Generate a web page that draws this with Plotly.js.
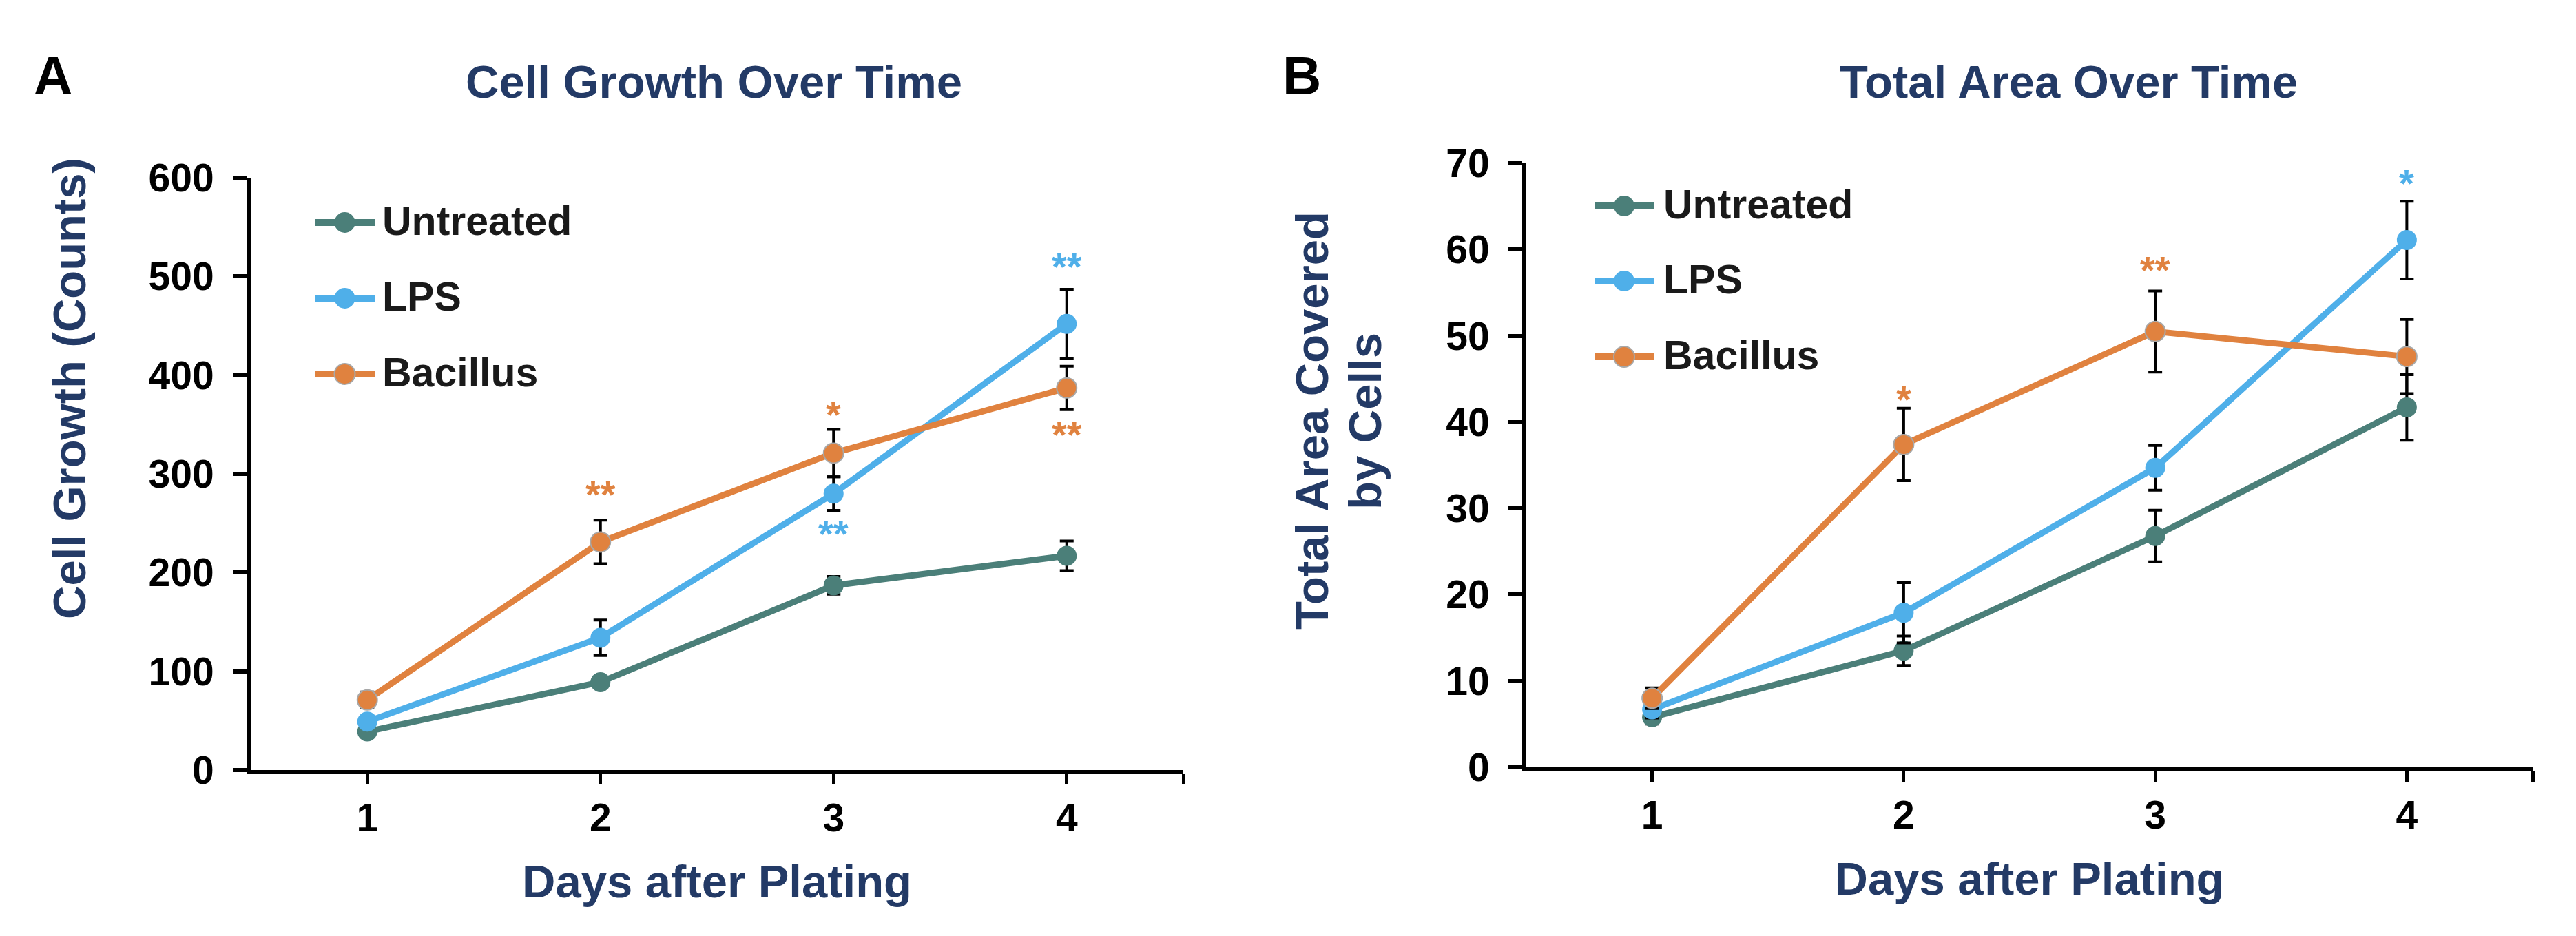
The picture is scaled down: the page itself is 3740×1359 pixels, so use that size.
<!DOCTYPE html>
<html><head><meta charset="utf-8">
<script src="https://cdn.plot.ly/plotly-3.0.1.min.js"></script>
<style>html,body{margin:0;padding:0;background:#fff;} #chart{width:3740px;height:1359px;}</style>
</head><body><div id="chart"></div>
<script>
// ---------- data ----------
const days = [1, 2, 3, 4];
const seriesNames = ['Untreated', 'LPS', 'Bacillus'];

const growthUntreated = [39, 89, 187, 217];
const growthUntreatedErr = [4, 5, 9, 15];
const growthLPS = [49, 134, 280, 452];
const growthLPSErr = [5, 18, 17, 35];
const growthBacillus = [71, 231, 321, 387];
const growthBacillusErr = [8, 22, 24, 22];

const areaUntreated = [5.8, 13.5, 26.8, 41.7];
const areaUntreatedErr = [0.8, 1.7, 3.0, 3.8];
const areaLPS = [6.7, 17.9, 34.7, 61.1];
const areaLPSErr = [1.0, 3.5, 2.6, 4.5];
const areaBacillus = [8.0, 37.4, 50.5, 47.6];
const areaBacillusErr = [1.2, 4.2, 4.7, 4.3];

const starsA_x = [2, 3, 3, 4, 4];
const starsA_y = [285, 366, 245, 516, 346];
const starsA_text = ['**', '*', '**', '**', '**'];
const starsA_series = ['Bacillus', 'Bacillus', 'LPS', 'LPS', 'Bacillus'];

const starsB_x = [2, 3, 4];
const starsB_y = [43.3, 58.3, 68.4];
const starsB_text = ['*', '**', '*'];
const starsB_series = ['Bacillus', 'Bacillus', 'LPS'];

const xTickVals = [1, 2, 3, 4, 4.5];
const xTickText = ['1', '2', '3', '4', ''];

// ---------- styles ----------
const W = 3740, H = 1359;
const colors = {Untreated: '#4B7F79', LPS: '#4FAFE9', Bacillus: '#E0823F'};
const NAVY = '#233A66';
const FAM = 'Liberation Sans, Arial, sans-serif';
const px = v => v / W;
const py = v => 1 - v / H;

function trace(name, y, err, xa, ya) {
  return {
    type: 'scatter', mode: 'lines+markers', name: name, x: days, y: y,
    xaxis: xa, yaxis: ya, showlegend: false, cliponaxis: false,
    line: {color: colors[name], width: 9},
    marker: {color: colors[name], size: 29,
      line: {color: name === 'Bacillus' ? '#A8A8A8' : colors[name], width: name === 'Bacillus' ? 2 : 0}},
    error_y: {type: 'data', array: err, visible: true, color: '#000', thickness: 4, width: 10}
  };
}

const data = [
  trace('Untreated', growthUntreated, growthUntreatedErr, 'x', 'y'),
  trace('LPS', growthLPS, growthLPSErr, 'x', 'y'),
  trace('Bacillus', growthBacillus, growthBacillusErr, 'x', 'y'),
  trace('Untreated', areaUntreated, areaUntreatedErr, 'x2', 'y2'),
  trace('LPS', areaLPS, areaLPSErr, 'x2', 'y2'),
  trace('Bacillus', areaBacillus, areaBacillusErr, 'x2', 'y2')
];

const tickFont = {family: FAM, size: 57, color: '#000', weight: 'bold'};
function xAxis(domain, anchor) {
  return {
    domain: domain, anchor: anchor, range: [0.5, 4.5], tickvals: xTickVals, ticktext: xTickText,
    ticks: 'outside', ticklen: 15, tickwidth: 5, tickcolor: '#000',
    showline: true, linewidth: 6, linecolor: '#000', showgrid: false, zeroline: false,
    tickfont: tickFont, ticklabelstandoff: 0,
    title: {text: 'Days after Plating', font: {family: FAM, size: 67, color: NAVY, weight: 'bold'}, standoff: 40}
  };
}
function yAxis(domain, anchor, range, dtick) {
  return {
    domain: domain, anchor: anchor, range: range, dtick: dtick, tick0: 0,
    ticks: 'outside', ticklen: 20, tickwidth: 6, tickcolor: '#000',
    showline: true, linewidth: 6, linecolor: '#000', showgrid: false, zeroline: false,
    tickfont: tickFont, ticklabelstandoff: 16
  };
}

const annotations = [];
const shapes = [];
function txt(x, y, text, size, color, opts) {
  annotations.push(Object.assign({
    xref: 'paper', yref: 'paper', x: px(x), y: py(y), text: text, showarrow: false,
    xanchor: 'center', yanchor: 'middle',
    font: {family: FAM, size: size, color: color, weight: 'bold'}
  }, opts || {}));
}
// panel letters and titles
txt(77, 110, 'A', 78, '#000');
txt(1890, 110, 'B', 78, '#000');
txt(1036, 118, 'Cell Growth Over Time', 67, NAVY);
txt(3003, 118, 'Total Area Over Time', 67, NAVY);
// y titles
txt(100, 564, 'Cell Growth (Counts)', 67, NAVY, {textangle: -90});
txt(1905, 611, 'Total Area Covered', 67, NAVY, {textangle: -90});
txt(1982, 611, 'by Cells', 67, NAVY, {textangle: -90});

// significance stars
function stars(xs, ys, ts, ss, xr, yr) {
  xs.forEach((x, i) => annotations.push({
    xref: xr, yref: yr, x: x, y: ys[i], text: ts[i], showarrow: false,
    xanchor: 'center', yanchor: 'middle', yshift: -8,
    font: {family: FAM, size: 56, color: colors[ss[i]], weight: 'bold'}
  }));
}
stars(starsA_x, starsA_y, starsA_text, starsA_series, 'x', 'y');
stars(starsB_x, starsB_y, starsB_text, starsB_series, 'x2', 'y2');

// legends (drawn per panel)
function legend(lineX0, lineX1, textX, ys) {
  seriesNames.forEach((n, i) => {
    const yy = ys[i];
    shapes.push({type: 'line', xref: 'paper', yref: 'paper', x0: px(lineX0), x1: px(lineX1), y0: py(yy), y1: py(yy),
      line: {color: colors[n], width: 10}});
    const cx = (lineX0 + lineX1) / 2;
    shapes.push({type: 'circle', xref: 'paper', yref: 'paper', xsizemode: 'pixel', ysizemode: 'pixel',
      xanchor: px(cx), yanchor: py(yy), x0: -15, x1: 15, y0: -15, y1: 15,
      fillcolor: colors[n], line: {color: n === 'Bacillus' ? '#A8A8A8' : colors[n], width: n === 'Bacillus' ? 2 : 0}});
    txt(textX, yy, n, 59, '#1A1A1A', {xanchor: 'left', yshift: 2});
  });
}
legend(457, 544, 553, [323, 433, 543]);
legend(2315, 2401, 2413, [299, 408, 518]);

const layout = {
  width: W, height: H, margin: {l: 0, r: 0, t: 0, b: 0},
  paper_bgcolor: '#fff', plot_bgcolor: '#fff', showlegend: false,
  xaxis: xAxis([px(364), px(1718)], 'y'),
  yaxis: yAxis([py(1118), py(258)], 'x', [0, 600], 100),
  xaxis2: xAxis([px(2216), px(3677)], 'y2'),
  yaxis2: yAxis([py(1114), py(237)], 'x2', [0, 70], 10),
  annotations: annotations, shapes: shapes
};

Plotly.newPlot('chart', data, layout, {staticPlot: true});
</script></body></html>
